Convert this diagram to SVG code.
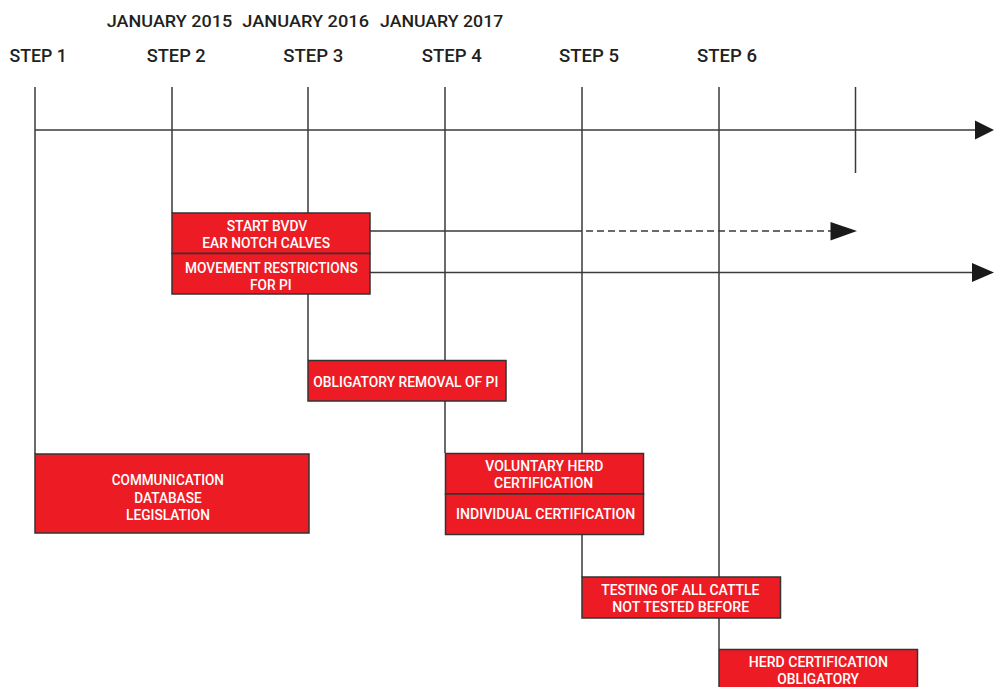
<svg xmlns="http://www.w3.org/2000/svg" width="994" height="687" viewBox="0 0 994 687">
<style>
.hdr{font-family:Roboto,"Liberation Sans",sans-serif;font-weight:500;fill:#231f20}
.step{font-size:19px}
.jan{font-size:17px}
.box rect{fill:#ed1c24;stroke:#333;stroke-width:1.5}
.box text{font-family:Roboto,"Liberation Sans",sans-serif;font-weight:500;font-size:14px;fill:#fff}
.ln{stroke:#3a3a3a;stroke-width:1.5;fill:none}
.dash{stroke-dasharray:7 4}
.ah{fill:#1a1a1a}
</style>
<rect width="994" height="687" fill="#fff"/>
<g id="headers" class="hdr">
<text class="jan" x="106.7" y="27" textLength="125.6" lengthAdjust="spacingAndGlyphs">JANUARY 2015</text>
<text class="jan" x="242.3" y="27" textLength="126.7" lengthAdjust="spacingAndGlyphs">JANUARY 2016</text>
<text class="jan" x="380" y="27" textLength="123.3" lengthAdjust="spacingAndGlyphs">JANUARY 2017</text>
<text class="step" x="9.5" y="61.5" textLength="57.4" lengthAdjust="spacingAndGlyphs">STEP 1</text>
<text class="step" x="146.7" y="61.5" textLength="59" lengthAdjust="spacingAndGlyphs">STEP 2</text>
<text class="step" x="283.3" y="61.5" textLength="60" lengthAdjust="spacingAndGlyphs">STEP 3</text>
<text class="step" x="421.7" y="61.5" textLength="60" lengthAdjust="spacingAndGlyphs">STEP 4</text>
<text class="step" x="559" y="61.5" textLength="60" lengthAdjust="spacingAndGlyphs">STEP 5</text>
<text class="step" x="697" y="61.5" textLength="60" lengthAdjust="spacingAndGlyphs">STEP 6</text>
</g>
<g id="connectors">
<line class="ln" x1="35" y1="87" x2="35" y2="454"/>
<line class="ln" x1="172" y1="87" x2="172" y2="213"/>
<line class="ln" x1="308" y1="87" x2="308" y2="360"/>
<line class="ln" x1="445" y1="87" x2="445" y2="453"/>
<line class="ln" x1="582" y1="87" x2="582" y2="577"/>
<line class="ln" x1="719" y1="87" x2="719" y2="649"/>
<line class="ln" x1="855.5" y1="87" x2="855.5" y2="173"/>
<line class="ln" x1="35" y1="130" x2="976" y2="130"/>
<polygon class="ah" points="975,120.5 994,130 975,139.5"/>
<line class="ln" x1="370" y1="231" x2="582" y2="231"/>
<line class="ln dash" x1="586" y1="231" x2="831" y2="231"/>
<polygon class="ah" points="830.5,222 857,231 830.5,240.5"/>
<line class="ln" x1="370" y1="272.5" x2="973" y2="272.5"/>
<polygon class="ah" points="972,263 994,272.5 972,282"/>
</g>
<g id="node-bvdv" class="box">
<rect x="172" y="213" width="198" height="40.5"/>
<text x="226.7" y="231.3" textLength="80.6" lengthAdjust="spacingAndGlyphs">START BVDV</text>
<text x="202.3" y="248" textLength="127.7" lengthAdjust="spacingAndGlyphs">EAR NOTCH CALVES</text>
</g>
<g id="node-movement" class="box">
<rect x="172" y="253.5" width="198" height="40.5"/>
<text x="185" y="273" textLength="172.7" lengthAdjust="spacingAndGlyphs">MOVEMENT RESTRICTIONS</text>
<text x="250" y="289.5" textLength="41.7" lengthAdjust="spacingAndGlyphs">FOR PI</text>
</g>
<g id="node-removal" class="box">
<rect x="308" y="360.5" width="198" height="40.5"/>
<text x="313.3" y="386.5" textLength="185" lengthAdjust="spacingAndGlyphs">OBLIGATORY REMOVAL OF PI</text>
</g>
<g id="node-communication" class="box">
<rect x="35" y="454" width="274" height="79"/>
<text x="111.7" y="485" textLength="112.3" lengthAdjust="spacingAndGlyphs">COMMUNICATION</text>
<text x="134.3" y="502.5" textLength="67.3" lengthAdjust="spacingAndGlyphs">DATABASE</text>
<text x="126" y="519.5" textLength="84" lengthAdjust="spacingAndGlyphs">LEGISLATION</text>
</g>
<g id="node-voluntary" class="box">
<rect x="445.5" y="453.5" width="198" height="40.5"/>
<text x="485.3" y="471" textLength="118" lengthAdjust="spacingAndGlyphs">VOLUNTARY HERD</text>
<text x="494" y="488" textLength="99.3" lengthAdjust="spacingAndGlyphs">CERTIFICATION</text>
</g>
<g id="node-individual" class="box">
<rect x="445.5" y="494" width="198" height="40.5"/>
<text x="456" y="519.3" textLength="179.3" lengthAdjust="spacingAndGlyphs">INDIVIDUAL CERTIFICATION</text>
</g>
<g id="node-testing" class="box">
<rect x="582" y="577" width="198.5" height="41"/>
<text x="601.3" y="595" textLength="158" lengthAdjust="spacingAndGlyphs">TESTING OF ALL CATTLE</text>
<text x="612.3" y="612" textLength="137" lengthAdjust="spacingAndGlyphs">NOT TESTED BEFORE</text>
</g>
<g id="node-herd" class="box">
<rect x="719" y="649.5" width="198.5" height="45"/>
<text x="748.7" y="667.3" textLength="139.3" lengthAdjust="spacingAndGlyphs">HERD CERTIFICATION</text>
<text x="777.3" y="684.3" textLength="81.7" lengthAdjust="spacingAndGlyphs">OBLIGATORY</text>
</g>
</svg>
